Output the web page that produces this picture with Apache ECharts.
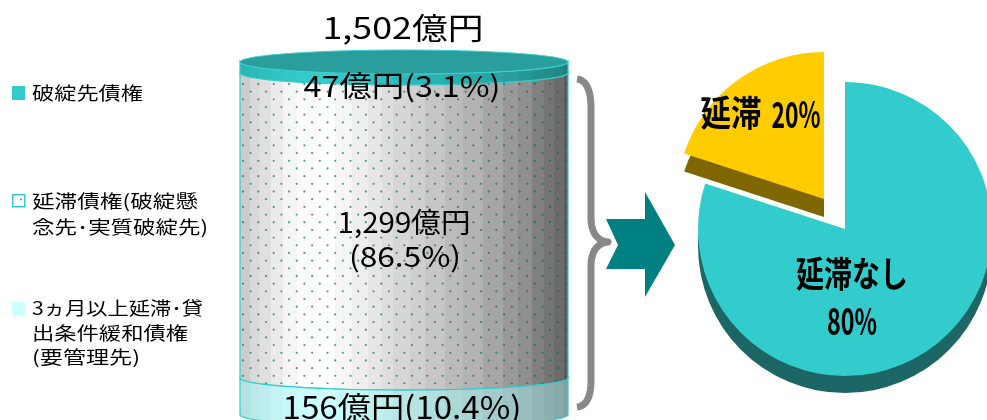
<!DOCTYPE html>
<html><head><meta charset="utf-8">
<style>html,body{margin:0;padding:0;background:#fff}#c{width:987px;height:420px;overflow:hidden}</style>
<script src="https://cdn.jsdelivr.net/npm/echarts@6/dist/echarts.min.js"></script>
</head><body><div id="c"></div>
<script>
// 債権の内訳(億円、円柱の上から順)
const segmentNames = ['破綻先債権', '延滞債権', '3ヵ月以上延滞・貸出条件緩和債権'];
const segmentValues = [47, 1299, 156];
const segmentShares = [3.1, 86.5, 10.4];
const totalValue = 1502;

// 延滞の有無の内訳(%)
const overdueNames = ['延滞なし', '延滞'];
const overdueValues = [80, 20];

// 凡例の折り返し済みテキスト
const legendLines = [
  ['破綻先債権'],
  ['延滞債権(破綻懸', '念先･実質破綻先)'],
  ['3ヵ月以上延滞･貸', '出条件緩和債権', '(要管理先)']
];

const FONT = '"Noto Sans CJK JP","Noto Sans",sans-serif';
const fmt = n => n.toLocaleString('en-US');

// 円柱側面の階調(左端からの位置 px と明度)
const stripEdges = [0,11,20,31,43,57,77,95,112,128,142,153,170,185,205,223,243,263,278,292,303,313,323,328];
const stripLevels = [.80,.85,.88,.92,.96,.985,1,.965,.935,.90,.87,.84,.81,.775,.735,.70,.65,.605,.56,.50,.46,.42,.36];

function steppedFill(base, lift) {
  const colorStops = [];
  stripLevels.forEach((g, i) => {
    const f = lift + (1 - lift) * g;
    const c = 'rgb(' + base.map(v => Math.round(v * f)).join(',') + ')';
    colorStops.push({offset: stripEdges[i] / 328, color: c}, {offset: stripEdges[i + 1] / 328, color: c});
  });
  return {type: 'linear', x: 0, y: 0, x2: 1, y2: 0, colorStops};
}

// 延滞債権の面に敷く点描パターン
function dotTile() {
  const size = 384, pitch = 15.36;
  const cv = document.createElement('canvas');
  cv.width = cv.height = size;
  const g = cv.getContext('2d');
  g.fillStyle = 'rgba(0,105,70,.62)';
  for (let r = 0; r < 50; r++) {
    const y = 7.2 + r * pitch / 2;
    const shift = r % 2 ? pitch / 2 : 0;
    for (let k = 0; k < 25; k++) {
      g.beginPath();
      g.arc((12.6 + shift + k * pitch) % size, y % size, 1.15, 0, Math.PI * 2);
      g.fill();
    }
  }
  return cv;
}
const dots = dotTile();

const CURVE = 12;
const BAND_STROKE = {stroke: '#33cccc', lineWidth: 1.2};
function frontArc(cx, rx, y, reverse) {
  const pts = [];
  for (let i = 0; i <= 60; i++) {
    const t = Math.PI * i / 60;
    pts.push([cx + rx * Math.cos(t), y + CURVE * Math.sin(t)]);
  }
  return reverse ? pts : pts.reverse();
}

const fills = [
  steppedFill([51, 204, 204], .42),
  steppedFill([255, 255, 255], 0),
  steppedFill([204, 255, 255], .42)
];

function renderSegment(params, api) {
  const i = params.dataIndex;
  const top = api.coord([0, api.value(1)]);
  const bottom = api.coord([0, api.value(2)]);
  const w = api.size([1, 0])[0];
  const cx = top[0], rx = w / 2;
  const points = frontArc(cx, rx, top[1], false).concat(frontArc(cx, rx, bottom[1], true));
  const children = [{type: 'polygon', shape: {points}, style: Object.assign({fill: fills[i]}, BAND_STROKE)}];
  if (i === 1) {
    children.push({type: 'polygon', shape: {points}, style: {fill: {image: dots, repeat: 'repeat'}}});
  }
  if (i === 0) {
    const cap = [];
    for (let k = 0; k < 120; k++) {
      const t = Math.PI * 2 * k / 120;
      cap.push([cx + rx * Math.cos(t), top[1] + CURVE * Math.sin(t)]);
    }
    children.push({type: 'polygon', shape: {points: cap}, style: {fill: '#2a9d9d', stroke: '#3fd2d2', lineWidth: 1}});
  }
  return {type: 'group', children};
}

let running = 0;
const stackedData = segmentValues.map((v, i) => {
  const row = [0, running, running + v, i];
  running += v;
  return row;
});

// 目標の幅に合わせて横方向に伸縮するテキスト
const probe = document.createElement('canvas').getContext('2d');
function fitted(text, x, y, size, width, opts) {
  const o = opts || {};
  const font = (o.weight || 400) + ' ' + size + 'px ' + FONT;
  probe.font = font;
  const sx = width / probe.measureText(text).width;
  const align = o.align || 'center';
  return {type: 'text', x, y, scaleX: sx, z: 100, silent: true,
    style: {text, font, fill: '#000', align, verticalAlign: 'middle', textAlign: align, textVerticalAlign: 'middle'}};
}

const pct = v => '(' + v + '%)';
const texts = [
  fitted(fmt(totalValue) + '億円', 403, 28, 30, 161),
  fitted(segmentValues[0] + '億円' + pct(segmentShares[0]), 402, 86, 29, 197),
  fitted(fmt(segmentValues[1]) + '億円', 404, 222, 28, 133),
  fitted(pct(segmentShares[1]), 405, 256, 28, 112),
  fitted(segmentValues[2] + '億円' + pct(segmentShares[2]), 402, 407, 31, 239),
  fitted(overdueNames[1], 731, 113, 35, 61, {weight: 700}),
  fitted(overdueValues[1] + '%', 796, 114, 36, 49, {weight: 700}),
  fitted(overdueNames[0], 852, 274, 35, 112, {weight: 700}),
  fitted(overdueValues[0] + '%', 852, 321, 37, 50, {weight: 700})
];

// 凡例
const legendRows = [[93], [201, 227], [308, 333, 357]];
const legendWidths = [[111], [166, 176], [171, 156, 108]];
legendLines.forEach((lines, i) => lines.forEach((line, j) => {
  texts.push(fitted(line, 32, legendRows[i][j], 18, legendWidths[i][j], {align: 'left'}));
}));
const swatches = [
  {type: 'rect', z: 100, shape: {x: 12, y: 86, width: 13, height: 14}, style: {fill: '#33cccc'}},
  {type: 'rect', z: 100, shape: {x: 12.75, y: 194.75, width: 12, height: 12}, style: {fill: '#fff', stroke: '#33cccc', lineWidth: 1.5}},
  {type: 'circle', z: 101, shape: {cx: 21, cy: 199.5, r: 1}, style: {fill: '#3f9f7f'}},
  {type: 'rect', z: 100, shape: {x: 12, y: 302, width: 13, height: 14}, style: {fill: '#ccffff'}}
];

// 波括弧(三次ベジェを折れ線に展開)と矢印
function bezierPoints(segs) {
  const pts = [];
  segs.forEach(([a, b, c, d]) => {
    for (let i = 0; i <= 24; i++) {
      const t = i / 24, u = 1 - t;
      pts.push([
        u*u*u*a[0] + 3*u*u*t*b[0] + 3*u*t*t*c[0] + t*t*t*d[0],
        u*u*u*a[1] + 3*u*u*t*b[1] + 3*u*t*t*c[1] + t*t*t*d[1]
      ]);
    }
  });
  return pts;
}
const brace = {type: 'polyline', z: 100, shape: {points: bezierPoints([
    [[577,79],[587,80],[591,92],[591,108]],
    [[591,218],[591,232],[597,241],[608,242]],
    [[608,242],[597,243],[591,252],[591,266]],
    [[591,380],[591,396],[587,406],[577,407]]
  ])},
  style: {fill: 'none', stroke: '#888888', lineWidth: 7, lineJoin: 'round'}};
const arrow = {type: 'polygon', z: 100, shape: {points: [[606,219],[645,219],[645,192],[675,245],[645,297],[645,269],[606,269],[618,245]]},
  style: {fill: '#008080'}};

function pieLayer(center, colors) {
  return {
    type: 'pie', silent: true, animation: false, clockwise: true,
    center, radius: [0, 147], startAngle: 90,
    label: {show: false}, labelLine: {show: false},
    emphasis: {disabled: true},
    data: overdueNames.map((name, i) => ({
      name, value: overdueValues[i], itemStyle: {color: colors[i], borderWidth: 0}
    }))
  };
}
const NONE = 'rgba(0,0,0,0)';

const chart = echarts.init(document.getElementById('c'), null, {width: 987, height: 420});
chart.setOption({
  animation: false,
  backgroundColor: '#fff',
  grid: {left: 240, width: 328, top: 62, height: 352.7},
  xAxis: {type: 'category', data: ['債権'], show: false},
  yAxis: {type: 'value', min: 0, max: totalValue, inverse: true, show: false},
  series: [
    {type: 'custom', silent: true, renderItem: renderSegment, data: stackedData,
     encode: {x: 0, y: [1, 2]}},
    pieLayer([845, 246], ['#1c6666', NONE]),
    pieLayer([845, 229], ['#33cccc', NONE]),
    pieLayer([824, 217], [NONE, '#806600']),
    pieLayer([824, 199], [NONE, '#ffcc00'])
  ],
  graphic: {elements: [brace, arrow].concat(swatches, texts)}
});
</script></body></html>
